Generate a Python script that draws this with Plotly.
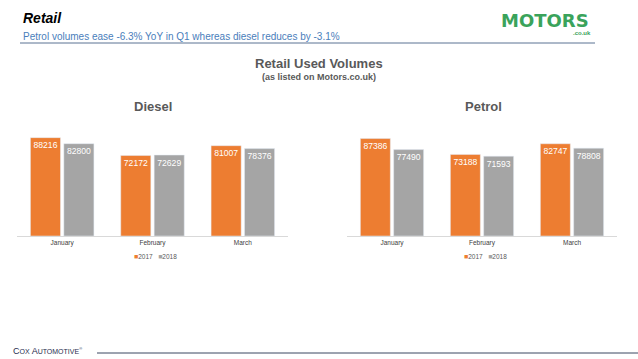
import plotly.graph_objects as go

months = ["January", "February", "March"]
years = ["2017", "2018"]
diesel_2017 = [88216, 72172, 81007]
diesel_2018 = [82800, 72629, 78376]
petrol_2017 = [87386, 73188, 82747]
petrol_2018 = [77490, 71593, 78808]

W, H = 638, 359
ORANGE = "#ED7D31"
GREY = "#A5A5A5"
TXT = "#595959"
FONT = "Liberation Sans"

def px(x):
    return x / W

def py(y):
    return 1 - y / H

fig = go.Figure()

def add(x, y, name, color, xa, ya):
    fig.add_trace(go.Bar(
        x=x, y=y, name=name, marker_color=color, xaxis=xa, yaxis=ya, showlegend=False,
        text=[str(v) for v in y], textposition="inside", insidetextanchor="end",
        textfont=dict(color="white", size=9, family=FONT),
        cliponaxis=False, textangle=0,
    ))

add(months, diesel_2017, years[0], ORANGE, "x", "y")
add(months, diesel_2018, years[1], GREY, "x", "y")
add(months, petrol_2017, years[0], ORANGE, "x2", "y2")
add(months, petrol_2018, years[1], GREY, "x2", "y2")

ydom = [py(236), py(124.5)]
axis_common = dict(showgrid=False, showline=True, linecolor="#D9D9D9", linewidth=1,
                   ticks="", tickfont=dict(size=6.5, color="#404040", family=FONT))
yaxis_common = dict(range=[0, 100000], visible=False, showgrid=False)

fig.update_layout(
    width=W, height=H, margin=dict(l=0, r=0, t=0, b=0),
    paper_bgcolor="white", plot_bgcolor="white",
    barmode="group", bargap=0.26, bargroupgap=0.1,
    font=dict(family=FONT), showlegend=False,
    xaxis=dict(domain=[px(17), px(288)], anchor="y", **axis_common),
    yaxis=dict(domain=ydom, anchor="x", **yaxis_common),
    xaxis2=dict(domain=[px(347), px(617)], anchor="y2", **axis_common),
    yaxis2=dict(domain=ydom, anchor="x2", **yaxis_common),
    uniformtext=dict(minsize=6, mode="show"),
)

ann = []
def text(x, y, t, size, color, bold=False, italic=False, xanchor="left", family=FONT):
    s = t
    if bold:
        s = "<b>" + s + "</b>"
    if italic:
        s = "<i>" + s + "</i>"
    ann.append(dict(x=px(x), y=py(y), xref="paper", yref="paper", text=s, showarrow=False,
                    xanchor=xanchor, yanchor="middle", font=dict(size=size, color=color, family=family)))

text(21, 18, "Retail", 14, "#000000", bold=True, italic=True)
text(21, 36, "Petrol volumes ease -6.3% YoY in Q1 whereas diesel reduces by -3.1%", 10, "#4A7EBB")
text(319, 64, "Retail Used Volumes", 13, TXT, bold=True, xanchor="center")
text(319, 77, "(as listed on Motors.co.uk)", 9, TXT, bold=True, xanchor="center")
text(153, 107, "Diesel", 13, TXT, bold=True, xanchor="center")
text(483, 107, "Petrol", 13, TXT, bold=True, xanchor="center")
text(545, 20, "MOTORS", 18, "#3AA35B", bold=True, xanchor="center", family="DejaVu Sans")
text(593, 33, ".co.uk", 6, "#3AA35B", bold=True, xanchor="right")
text(11, 351, "C<span style='font-size:7px'>OX</span> A<span style='font-size:7px'>UTOMOTIVE</span>"
     "<sup><span style='font-size:4px'>®</span></sup>", 9, "#1F2D4D")

# legends (compact, as in the reference)
def legend_text(colors):
    parts = []
    for yr, c in zip(years, colors):
        parts.append("<span style='color:%s;font-size:7px'>■</span>%s" % (c, yr))
    return "&nbsp;&nbsp;&nbsp;".join(parts)

text(155, 256, legend_text([ORANGE, GREY]), 6.5, TXT, xanchor="center")
text(485, 256, legend_text([ORANGE, GREY]), 6.5, TXT, xanchor="center")

fig.update_layout(annotations=ann, shapes=[
    dict(type="line", xref="paper", yref="paper", x0=px(20), x1=px(595), y0=py(43), y1=py(43),
         line=dict(color="#5B7393", width=1)),
    dict(type="line", xref="paper", yref="paper", x0=px(97), x1=1, y0=py(353), y1=py(353),
         line=dict(color="#3A4660", width=1)),
])

fig.write_html("out.html", config={"displayModeBar": False},
               post_script="document.body.style.margin='0';")
